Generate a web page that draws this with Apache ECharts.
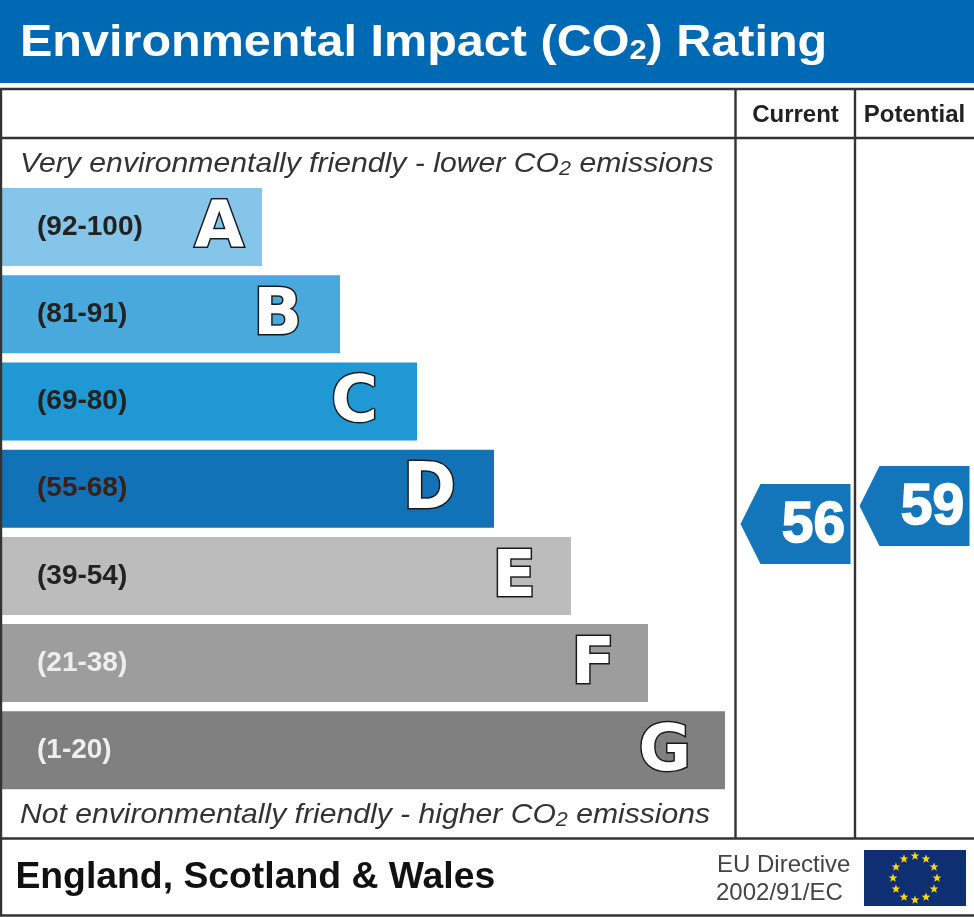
<!DOCTYPE html>
<html><head><meta charset="utf-8">
<style>html,body{margin:0;padding:0;background:#fff}#c{width:974px;height:917px}</style>
<script src="https://cdn.jsdelivr.net/npm/echarts@6/dist/echarts.min.js"></script>
</head><body><div id="c"></div>
<script>
const bands = ['A','B','C','D','E','F','G'];
const ranges = ['(92-100)','(81-91)','(69-80)','(55-68)','(39-54)','(21-38)','(1-20)'];
const barLengths = [260,338,415,492,569,646,723];
const barColors = ['#85c5e9','#4aa9dc','#2098d3','#1272b8','#bcbcbc','#9d9d9d','#808080'];
const rangeColors = ['#222222','#222222','#222222','#3a2018','#222222','#eeeeee','#eeeeee'];
const columns = ['Current','Potential'];
const ratings = [56,59];

const F = '"Liberation Sans", Arial, sans-serif';
const letterInset = {A:18,B:38,C:39,D:38,E:35,F:33,G:34};
const chart = echarts.init(document.getElementById('c'));

function txt(x,y,rich,text,sx){
  return {type:'text',x:x,y:y,scaleX:sx||1,originX:0,originY:0,silent:true,z:5,
    style:{text:text,rich:rich,x:0,y:0,verticalAlign:'middle',align:'left'}};
}
function line(x1,y1,x2,y2){
  return {type:'line',silent:true,z:4,shape:{x1,y1,x2,y2},style:{stroke:'#333',lineWidth:2.4}};
}
function star(cx,cy,r){
  const pts=[];
  for(let i=0;i<10;i++){
    const a=-Math.PI/2+i*Math.PI/5, q=i%2?r*0.42:r;
    pts.push([cx+q*Math.cos(a),cy+q*Math.sin(a)]);
  }
  return {type:'polygon',silent:true,z:6,shape:{points:pts},style:{fill:'#ffd60a'}};
}
const stars=[];
for(let i=0;i<12;i++){
  const a=i*Math.PI/6;
  stars.push(star(915+22*Math.sin(a),878-22*Math.cos(a),4.6));
}
const richTitle={a:{font:'bold 44px '+F,fill:'#fff'},s:{font:'bold 28px '+F,fill:'#fff',padding:[14,0,0,0]}};
const richItal={a:{font:'italic 28px '+F,fill:'#333'},s:{font:'italic 20px '+F,fill:'#333',padding:[10,0,0,0]}};

const option={
  animation:false,
  backgroundColor:'#fff',
  grid:[
    {left:2,top:183.5,width:730,height:610.4},
    {left:736,top:138,width:238,height:700}
  ],
  xAxis:[
    {type:'value',gridIndex:0,min:0,max:730,show:false},
    {type:'category',gridIndex:1,data:columns,position:'top',
     axisLine:{show:false},axisTick:{show:false},splitLine:{show:false},
     axisLabel:{margin:11,color:'#222',fontFamily:F,fontWeight:'bold',fontSize:24,interval:0}}
  ],
  yAxis:[
    {type:'category',gridIndex:0,data:bands,inverse:true,show:false},
    {type:'value',gridIndex:1,min:3.67,max:120.33,show:false}
  ],
  series:[
    {type:'bar',xAxisIndex:0,yAxisIndex:0,barWidth:78,silent:true,
     data:barLengths.map((v,i)=>({value:v,itemStyle:{color:barColors[i]},
       label:{color:rangeColors[i]}})),
     label:{show:true,position:'insideLeft',distance:35,fontFamily:F,fontWeight:'bold',fontSize:28,
       formatter:p=>ranges[p.dataIndex]}},
    {type:'bar',xAxisIndex:0,yAxisIndex:0,barWidth:78,barGap:'-100%',silent:true,
     data:barLengths.map((v,i)=>({value:v,itemStyle:{color:'transparent'},
       label:{distance:letterInset[bands[i]]}})),
     label:{show:true,position:'insideRight',offset:[0,3],fontFamily:'"DejaVu Sans", sans-serif',fontWeight:'bold',fontSize:64,color:'#fff',
       textBorderColor:'#1a1a1a',textBorderWidth:3,formatter:p=>bands[p.dataIndex]}},
    {type:'custom',xAxisIndex:1,yAxisIndex:1,silent:true,z:10,
     data:ratings.map((v,i)=>[i,v]),
     encode:{x:0,y:1},
     renderItem:function(params,api){
       const c=api.coord([api.value(0),api.value(1)]);
       const x=c[0],y=c[1];
       return {type:'group',children:[
         {type:'polygon',shape:{points:[[x-55,y],[x-35,y-40],[x+55,y-40],[x+55,y+40],[x-35,y+40]]},
          style:{fill:'#1375ba'}},
         {type:'text',x:x+18,y:y+2,style:{text:String(api.value(1)),fill:'#fff',stroke:'#fff',lineWidth:1.6,
          font:'bold 57px '+F,align:'center',verticalAlign:'middle'}}
       ]};
     }}
  ],
  graphic:{elements:[
    {type:'rect',silent:true,z:1,shape:{x:0,y:0,width:974,height:83},style:{fill:'#0069b4'}},
    txt(20,44,richTitle,'{a|Environmental Impact (CO}{s|2}{a|) Rating}',1.103),
    line(0,89,974,89),line(0,138,974,138),line(0,838.5,974,838.5),line(0,915.5,974,915.5),
    line(1,89,1,915),line(735.5,89,735.5,838),line(855,89,855,838),
    txt(20,164,richItal,'{a|Very environmentally friendly - lower CO}{s|2}{a| emissions}',1.078),
    txt(20,815,richItal,'{a|Not environmentally friendly - higher CO}{s|2}{a| emissions}',1.076),
    {type:'text',x:16,y:878,scaleX:1.037,originX:16,originY:878,silent:true,z:5,style:{text:'England, Scotland & Wales',font:'bold 36px '+F,fill:'#111',verticalAlign:'middle'}},
    {type:'text',x:717,y:865,silent:true,z:5,style:{text:'EU Directive',font:'24px '+F,fill:'#444',verticalAlign:'middle'}},
    {type:'text',x:716,y:893,silent:true,z:5,style:{text:'2002/91/EC',font:'24px '+F,fill:'#444',verticalAlign:'middle'}},
    {type:'rect',silent:true,z:5,shape:{x:864,y:850,width:102,height:56},style:{fill:'#0f2f73'}}
  ].concat(stars)}
};
chart.setOption(option);
</script></body></html>
